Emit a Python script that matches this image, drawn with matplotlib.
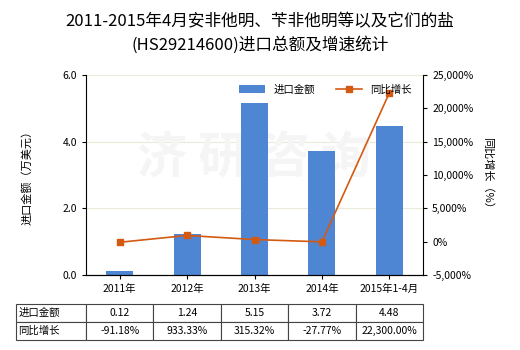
import matplotlib
matplotlib.use("Agg")
import matplotlib.pyplot as plt
from matplotlib.ticker import FuncFormatter

plt.rcParams['font.family'] = ['Noto Sans CJK SC', 'DejaVu Sans']

# 数据
years = ["2011年", "2012年", "2013年", "2014年", "2015年1-4月"]
amount = [0.12, 1.24, 5.15, 3.72, 4.48]
growth = [-91.18, 933.33, 315.32, -27.77, 22300.00]
amount_labels = ["0.12", "1.24", "5.15", "3.72", "4.48"]
growth_labels = ["-91.18%", "933.33%", "315.32%", "-27.77%", "22,300.00%"]

bar_color = "#4f86d4"
line_color = "#d45a12"

fig = plt.figure(figsize=(5.2, 3.5), dpi=100)
ax = fig.add_axes([0.1654, 0.2143, 0.6481, 0.5714])
ax2 = ax.twinx()

# 水印（在柱子后面）
ax.text(0.5, 0.58, "济 研 咨 询", transform=ax.transAxes, fontsize=36, fontweight='bold',
        color="#f5f5f5", ha='center', va='center', zorder=1)

x = range(len(years))
ax.bar(x, amount, width=0.4, color=bar_color, zorder=2, label="进口金额")
ax.set_xlim(-0.5, 4.5)
ax.set_ylim(0, 6.0)
ax.set_yticks([0, 2, 4, 6])
ax.yaxis.set_major_formatter(FuncFormatter(lambda v, p: "%.1f" % v))
ax.grid(axis='y', color="#ece9d8", linewidth=0.8, zorder=0)
ax.set_axisbelow(True)
ax.set_xticks(list(x))
ax.set_xticklabels(years)
ax.set_ylabel("进口金额（万美元）", fontsize=8, labelpad=22)

ax2.plot(list(x), growth, color=line_color, marker='s', markersize=4, linewidth=1.2,
         label="同比增长", zorder=3)
ax2.set_ylim(-5000, 25000)
ax2.set_yticks(range(-5000, 25001, 5000))
ax2.yaxis.set_major_formatter(FuncFormatter(lambda v, p: "{:,}%".format(int(v))))
ax2.set_ylabel("同比增长（%）", fontsize=8, rotation=270, labelpad=14)

for a in (ax, ax2):
    a.tick_params(labelsize=7.5, length=3, width=0.8)
    a.spines["top"].set_visible(False)
ax.spines["right"].set_visible(False)
ax2.spines["left"].set_visible(False)

# 图例
h1, l1 = ax.get_legend_handles_labels()
h2, l2 = ax2.get_legend_handles_labels()
ax2.legend(h1 + h2, l1 + l2, loc='upper center', bbox_to_anchor=(0.71, 1.0), ncol=2,
           frameon=False, fontsize=7.5, handlelength=2.5, columnspacing=2.0)

# 标题
fig.suptitle("2011-2015年4月安非他明、苄非他明等以及它们的盐\n(HS29214600)进口总额及增速统计",
             y=0.962, fontsize=12, linespacing=1.4)

# 数据表
cells = [["进口金额"] + amount_labels, ["同比增长"] + growth_labels]
tab = ax.table(cellText=cells, colWidths=[70] + [67.4] * 5, cellLoc='center',
               bbox=[-0.2077, -0.325, 1.2077, 0.18])
tab.auto_set_font_size(False)
tab.set_fontsize(7.5)
for (r, c), cell in tab.get_celld().items():
    cell.set_edgecolor("#444444")
    cell.set_linewidth(0.8)
    if c == 0:
        cell.get_text().set_ha('left')
        cell.PAD = 0.03

fig.savefig("out.png", dpi=100)
